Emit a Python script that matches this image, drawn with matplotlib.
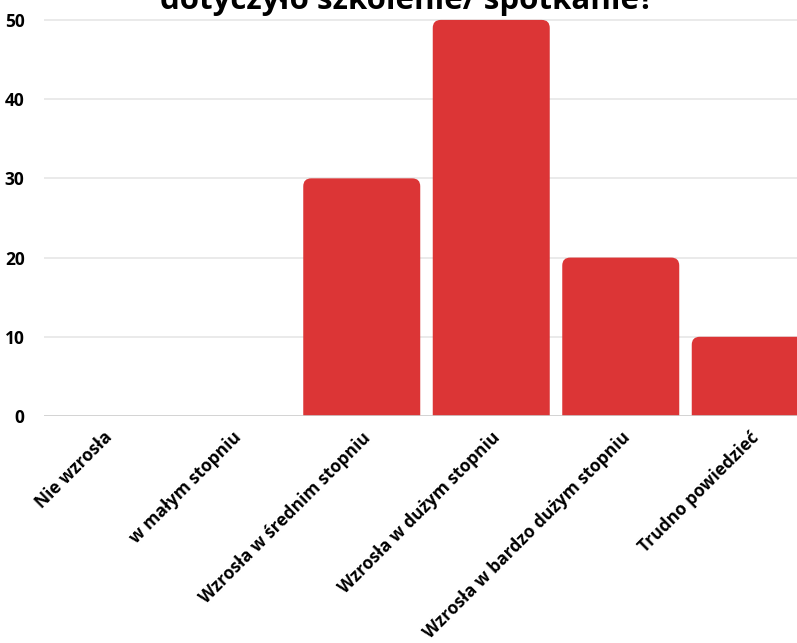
import matplotlib
matplotlib.use("Agg")
import matplotlib.pyplot as plt
from matplotlib.patches import FancyBboxPatch

categories = ["Nie wzrosła", "w małym stopniu", "Wzrosła w średnim stopniu",
              "Wzrosła w dużym stopniu", "Wzrosła w bardzo dużym stopniu", "Trudno powiedzieć"]
values = [0, 0, 30, 50, 20, 10]
yticks = [0, 10, 20, 30, 40, 50]
title = "dotyczyło szkolenie/ spotkanie?"

plt.rcParams['font.family'] = ['Open Sans', 'DejaVu Sans']

W, H = 797, 643
fig = plt.figure(figsize=(W / 100, H / 100), dpi=100)
# axes in pixel coords
cat_w = 129.5
left_px, right_px = 44, 38 + cat_w * 6
bottom_px, top_px = 416, 12
ymax = 51
ax = fig.add_axes([left_px / W, 1 - bottom_px / H, (right_px - left_px) / W, (bottom_px - top_px) / H])
ax.set_xlim(-0.5 + 6 / cat_w, 5.5)
ax.set_ylim(0, ymax)

color = "#DC3536"
bw = 117 / cat_w
xpp = 1 / cat_w
ypp = ymax / (bottom_px - top_px)
aspect = ypp / xpp
r = 8 * xpp
for i, v in enumerate(values):
    if v <= 0:
        continue
    p = FancyBboxPatch((i - bw / 2, -3), bw, v + 3,
                       boxstyle=f"round,pad=0,rounding_size={r}",
                       mutation_aspect=aspect, facecolor=color, edgecolor="none",
                       zorder=3)
    ax.add_patch(p)

for t in yticks:
    ax.axhline(t, color="#cccccc" if t == 0 else "#e6e6e6", lw=1.2, zorder=1 if t else 4)

for s in ax.spines.values():
    s.set_visible(False)
ax.set_yticks(yticks)
ax.set_yticklabels([str(t) for t in yticks], fontsize=12.5, fontweight="bold")
ax.tick_params(axis="y", length=0, pad=14)
ax.set_xticks(range(len(categories)))
ax.set_xticklabels(categories, rotation=45, ha="right", rotation_mode="anchor",
                   fontsize=12.5, fontweight="bold")
ax.tick_params(axis="x", length=0, pad=9)

fig.text(407 / W, 1 - 9 / H, title, ha="center", va="baseline", fontsize=22.5, fontweight="bold")

fig.savefig("out.png", dpi=100)
